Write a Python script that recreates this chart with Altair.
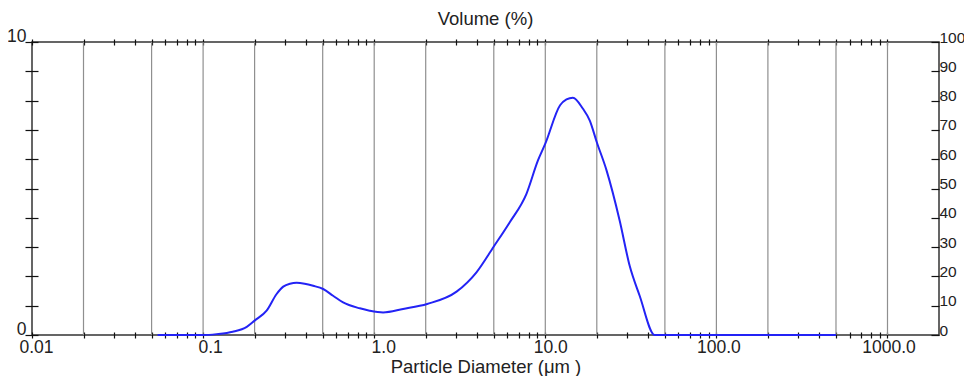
import altair as alt
import pandas as pd

# Particle size distribution
diameter_um = [0.0542, 0.1, 0.12, 0.149, 0.18, 0.2, 0.235, 0.269, 0.294, 0.322,
               0.352, 0.392, 0.44, 0.503, 0.575, 0.658, 0.824, 0.94, 1.127, 1.475,
               2.04, 3.03, 3.96, 5.0, 6.2, 7.76, 9.06, 10.0, 12.2, 13.3, 14.5,
               16.6, 18.2, 20.0, 22.8, 27.2, 31.1, 35.6, 43.6, 500.0]
volume_pct = [0.0, 0.0, 0.03, 0.11, 0.28, 0.49, 0.83, 1.40, 1.65, 1.75,
              1.78, 1.75, 1.68, 1.57, 1.34, 1.11, 0.91, 0.83, 0.77, 0.89,
              1.06, 1.48, 2.14, 3.02, 3.85, 4.82, 5.96, 6.53, 7.84, 8.04, 8.10,
              7.72, 7.32, 6.58, 5.62, 3.91, 2.37, 1.34, 0.0, 0.0]

grid_values = [0.02, 0.05, 0.1, 0.2, 0.5, 1, 2, 5, 10, 20, 50, 100, 200, 500, 1000]
x_label_values = [0.01, 0.1, 1, 10, 100, 1000]
x_label_texts = ["0.01", "0.1", "1.0", "10.0", "100.0", "1000.0"]
x_tick_values = [round(m * 10 ** e, 6) for e in range(-2, 4) for m in range(1, 10) if m * 10 ** e <= 1000]
left_tick_values = list(range(0, 11))
right_tick_values = list(range(0, 101, 10))

x_title = "Particle Diameter (μm )"
chart_title = "Volume (%)"

FONT = "Liberation Sans"
TXT = "#222222"

df_line = pd.DataFrame({"d": diameter_um, "v": volume_pct})
df_grid = pd.DataFrame({"g": grid_values})
df_right = pd.DataFrame({"p": [0, 100]})

label_expr = " : ".join(
    f"datum.value == {v} ? '{t}'" for v, t in zip(x_label_values, x_label_texts)
) + " : ''"

# small per-label horizontal nudges, as in the original
label_nudge = [4, 7, 9, 5, 2, 1]
label_offset = {
    "condition": [{"test": f"datum.value == {v}", "value": n}
                  for v, n in zip(x_label_values[:-1], label_nudge[:-1])],
    "value": label_nudge[-1],
}

xscale = alt.Scale(type="log", domain=[0.01, 2000], nice=False)

grid = alt.Chart(df_grid).mark_rule(color="#8f8f8f", strokeWidth=1.2).encode(
    x=alt.X("g:Q", scale=xscale,
            axis=alt.Axis(orient="top", values=x_tick_values, labels=False, title=None,
                          domain=False, grid=False, ticks=True, tickSize=6, offset=-3,
                          tickColor="#111111", tickWidth=1.2))
)

line = alt.Chart(df_line).mark_line(color="#2323f5", strokeWidth=2, interpolate="monotone").encode(
    x=alt.X("d:Q", scale=xscale,
            axis=alt.Axis(orient="bottom", values=x_tick_values, labelExpr=label_expr,
                          title=x_title, domain=False, grid=False, tickSize=6, offset=-3,
                          tickColor="#111111", tickWidth=1.2, labelPadding=0,
                          labelOffset=label_offset, labelFontSize=17.5, labelColor=TXT,
                          labelFont=FONT, titleFont=FONT, titleFontSize=18.5,
                          titleFontWeight="normal", titleColor=TXT, titlePadding=2,
                          labelFlush=False, labelOverlap=False)),
    y=alt.Y("v:Q", scale=alt.Scale(domain=[0, 10], nice=False),
            axis=alt.Axis(orient="left", values=left_tick_values, title=None,
                          labelExpr="datum.value == 0 || datum.value == 10 ? datum.label : ''",
                          domain=False, grid=False, tickSize=13, offset=-6,
                          tickColor="#111111", tickWidth=1.2, labelPadding=-1,
                          labelBaseline="middle", labelOffset=-6, labelFontSize=17.5,
                          labelColor=TXT, labelFont=FONT, labelFlush=False,
                          labelOverlap=False))
)

right = alt.Chart(df_right).mark_point(opacity=0).encode(
    y=alt.Y("p:Q", scale=alt.Scale(domain=[0, 100], nice=False),
            axis=alt.Axis(orient="right", values=right_tick_values, title=None,
                          domain=False, grid=False, tickSize=8, offset=-8,
                          tickColor="#111111", tickWidth=1.2, labelPadding=0,
                          labelBaseline="middle", labelOffset=-5, labelFontSize=15.5,
                          labelColor=TXT, labelFont=FONT, labelFlush=False,
                          labelOverlap=False))
)

chart = alt.layer(grid, line, right).resolve_scale(
    y="independent"
).resolve_axis(
    x="independent", y="independent"
).properties(
    width=907,
    height=293,
    background="white",
    autosize=alt.AutoSizeParams(type="none"),
    padding={"left": 24, "top": 34, "right": 25, "bottom": 41},
    title=alt.TitleParams(chart_title, anchor="middle", frame="group", offset=-1,
                          fontSize=18.5, fontWeight="normal", font=FONT, color=TXT),
).configure_view(
    stroke="#333333", strokeWidth=1.5
)

chart.save("out.html", embed_options={"renderer": "svg", "actions": False})
